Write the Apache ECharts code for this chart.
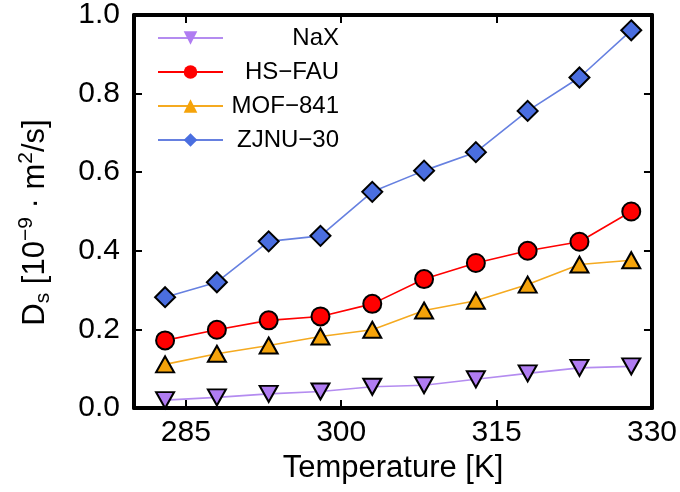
<!DOCTYPE html>
<html>
<head>
<meta charset="utf-8">
<script src="https://cdn.jsdelivr.net/npm/echarts@6/dist/echarts.min.js"></script>
<style>
  html, body { margin: 0; padding: 0; background: #fff; }
  #main { width: 680px; height: 492px; }
</style>
</head>
<body>
<div id="main"></div>
<script>
// temperatures [K]
var temps = [283, 288, 293, 298, 303, 308, 313, 318, 323, 328];
// self-diffusion coefficients [1e-9 m2/s]
var nax    = [0.020, 0.027, 0.036, 0.042, 0.054, 0.058, 0.073, 0.088, 0.102, 0.106];
var hsfau  = [0.172, 0.199, 0.223, 0.233, 0.265, 0.328, 0.369, 0.400, 0.423, 0.500];
var mof841 = [0.111, 0.138, 0.159, 0.182, 0.199, 0.248, 0.273, 0.314, 0.365, 0.376];
var zjnu30 = [0.282, 0.320, 0.424, 0.438, 0.550, 0.604, 0.651, 0.756, 0.841, 0.961];
var xTicks = [285, 300, 315, 330];

function pairs(ys) {
  return temps.map(function (t, i) { return [t, ys[i]]; });
}

var font = 'Liberation Sans, Arial, sans-serif';
var chart = echarts.init(document.getElementById('main'));

function mkX(pos, showLabel) {
  return {
    type: 'value', position: pos, min: 280, max: 330,
    axisLine: { show: true, onZero: false, lineStyle: { color: '#000', width: 4 } },
    axisTick: { show: true, inside: true, length: 8, customValues: xTicks, lineStyle: { color: '#000', width: 2 } },
    axisLabel: { show: showLabel, customValues: xTicks, fontSize: 30, color: '#000', fontFamily: font, margin: 10 },
    splitLine: { show: false }
  };
}
function mkY(pos, showLabel) {
  return {
    type: 'value', position: pos, min: 0, max: 1, interval: 0.2,
    axisLine: { show: true, onZero: false, lineStyle: { color: '#000', width: 4 } },
    axisTick: { show: true, inside: true, length: 8, lineStyle: { color: '#000', width: 2 } },
    axisLabel: {
      show: showLabel, fontSize: 30, color: '#000', fontFamily: font, margin: 14,
      formatter: function (v) { return v.toFixed(1); }
    },
    splitLine: { show: false }
  };
}

var xBottom = mkX('bottom', true);
xBottom.name = 'Temperature [K]';
xBottom.nameLocation = 'middle';
xBottom.nameGap = 43;
xBottom.nameTextStyle = { fontSize: 31, color: '#000', fontFamily: font };

var yLeft = mkY('left', true);
yLeft.name = '{n|D}{sub|s}{n| [10}{sup|−9}{n| · m}{sup|2}{n|/s]}';
yLeft.nameLocation = 'middle';
yLeft.nameRotate = 90;
yLeft.nameGap = 80;
yLeft.nameTextStyle = {
  color: '#000', fontFamily: font,
  padding: [0, 22, 0, 0],
  rich: {
    n: { fontSize: 31, lineHeight: 38, color: '#000', fontFamily: font },
    sup: { fontSize: 21, lineHeight: 21, verticalAlign: 'top', color: '#000', fontFamily: font },
    sub: { fontSize: 21, lineHeight: 21, verticalAlign: 'bottom', color: '#000', fontFamily: font }
  }
};

function mkSeries(name, ys, fill, line, symbol, size, rotate) {
  return {
    name: name, type: 'line', data: pairs(ys),
    symbol: symbol, symbolSize: size, symbolRotate: rotate || 0,
    showSymbol: true,
    lineStyle: { color: line, width: 1.6 },
    itemStyle: { color: fill, borderColor: '#000', borderWidth: 2 },
    emphasis: { disabled: true },
    animation: false
  };
}

chart.setOption({
  backgroundColor: '#fff',
  animation: false,
  grid: { left: 134, right: 24, top: 13, bottom: 84 },
  legend: {
    left: 152, top: 21, orient: 'vertical',
    itemWidth: 65, itemHeight: 17, itemGap: 10,
    itemStyle: { borderWidth: 0 },
    data: ['NaX', 'HS−FAU', 'MOF−841', 'ZJNU−30'],
    formatter: '{t|{name}}',
    textStyle: {
      rich: { t: { width: 111, align: 'right', fontSize: 24, lineHeight: 24, color: '#000', fontFamily: font } }
    }
  },
  xAxis: [xBottom, mkX('top', false)],
  yAxis: [yLeft, mkY('right', false)],
  series: [
    mkSeries('NaX', nax, '#b07cf2', '#b48cf0', 'triangle', [18, 16], 180),
    mkSeries('HS−FAU', hsfau, '#ff0000', '#ff0000', 'circle', 18),
    mkSeries('MOF−841', mof841, '#f5a30a', '#f5aa20', 'triangle', [18, 16]),
    mkSeries('ZJNU−30', zjnu30, '#4a6ee0', '#6680e0', 'diamond', 20)
  ]
});
</script>
</body>
</html>
